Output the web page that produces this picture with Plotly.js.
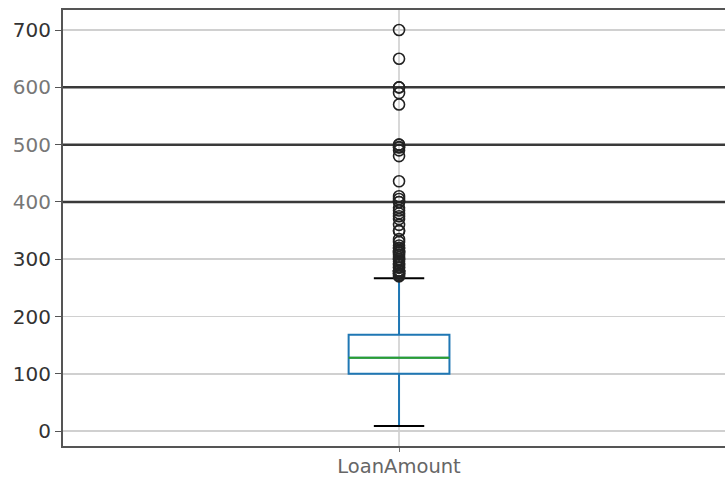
<!DOCTYPE html>
<html>
<head>
<meta charset="utf-8">
<script src="https://cdn.plot.ly/plotly-3.0.1.min.js"></script>
<style>html,body{margin:0;padding:0;background:#fff;}#chart{width:725px;height:478px;}</style>
</head>
<body>
<div id="chart"></div>
<script>
// Data
const categoryName = "LoanAmount";
const boxPos = [1];
const q1 = [100];
const median = [128];
const q3 = [168];
const lowerFence = [9];
const upperFence = [267];
const outliers = [270, 272, 275, 275, 276, 279, 280, 280, 280, 285, 286, 290, 292, 296, 300, 300, 304, 308, 311, 312, 315, 315, 319, 320, 324, 330, 335, 349, 350, 360, 370, 375, 380, 385, 390, 400, 400, 405, 410, 436, 480, 490, 495, 496, 500, 500, 570, 590, 600, 600, 650, 700];
const yTicks = [0, 100, 200, 300, 400, 500, 600, 700];
const darkGrid = [400, 500, 600];
const xRange = [0.5, 1.485];

const boxWidth = 0.15;
const capWidth = boxWidth / 2;

const traces = [];
// dark grid lines (drawn as traces beneath the marks)
darkGrid.forEach(v => {
  traces.push({
    type: 'scatter', mode: 'lines', x: xRange, y: [v, v],
    line: {color: '#3a3a3a', width: 2.5}, showlegend: false, hoverinfo: 'skip', cliponaxis: true
  });
});
// box body (blue)
traces.push({
  type: 'box', x: boxPos, q1: q1, median: median, q3: q3,
  lowerfence: lowerFence, upperfence: upperFence,
  width: boxWidth, whiskerwidth: 0,
  line: {color: '#1f77b4', width: 2},
  fillcolor: 'rgba(0,0,0,0)', boxpoints: false, hoverinfo: 'skip', showlegend: false
});
// median (green)
traces.push({
  type: 'scatter', mode: 'lines',
  x: [boxPos[0] - boxWidth / 2, boxPos[0] + boxWidth / 2], y: [median[0], median[0]],
  line: {color: '#2ca02c', width: 2}, showlegend: false, hoverinfo: 'skip'
});
// caps (black)
[lowerFence[0], upperFence[0]].forEach(v => {
  traces.push({
    type: 'scatter', mode: 'lines',
    x: [boxPos[0] - capWidth / 2, boxPos[0] + capWidth / 2], y: [v, v],
    line: {color: '#000', width: 2}, showlegend: false, hoverinfo: 'skip'
  });
});
// outliers
traces.push({
  type: 'scatter', mode: 'markers',
  x: outliers.map(() => boxPos[0]), y: outliers,
  marker: {symbol: 'circle-open', size: 11, color: '#222', line: {width: 1.6, color: '#222'}},
  showlegend: false, hoverinfo: 'y'
});

const ticktext = yTicks.map(v => darkGrid.includes(v) ? '<span style="color:#777">' + v + '</span>' : String(v));

const layout = {
  width: 725, height: 478,
  margin: {l: 63, r: 0, t: 10, b: 32, pad: 0},
  paper_bgcolor: '#fff', plot_bgcolor: '#fff',
  font: {family: 'DejaVu Sans, sans-serif', size: 20, color: '#333'},
  xaxis: {
    range: xRange, tickvals: boxPos, ticktext: [categoryName],
    showgrid: true, gridcolor: '#d8d8d8', gridwidth: 1.5,
    showline: true, linecolor: '#555', linewidth: 2, mirror: true,
    ticks: 'outside', ticklen: 4, tickcolor: '#777', zeroline: false,
    ticklabelstandoff: -2,
    tickfont: {size: 19.5, color: '#666'}
  },
  yaxis: {
    range: [-26, 735], tickvals: yTicks, ticktext: ticktext,
    showgrid: true, gridcolor: '#d0d0d0', gridwidth: 1.5,
    showline: true, linecolor: '#555', linewidth: 2,
    ticks: 'outside', ticklen: 6, tickcolor: '#555', zeroline: false,
    tickfont: {size: 20, color: '#333'}
  },
  showlegend: false
};

Plotly.newPlot('chart', traces, layout, {staticPlot: true, displayModeBar: false});
</script>
</body>
</html>
